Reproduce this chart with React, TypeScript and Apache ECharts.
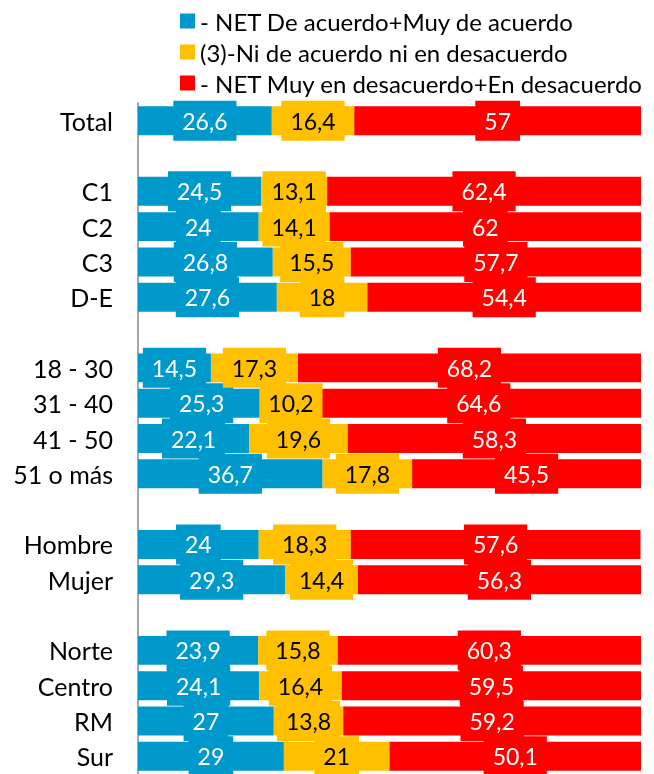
import React, { useEffect, useRef } from "react";
import * as echarts from "echarts";

const categories = ["Total", " ", "C1", "C2", "C3", "D-E", "  ", "18 - 30", "31 - 40", "41 - 50", "51 o más", "   ", "Hombre", "Mujer", "    ", "Norte", "Centro", "RM", "Sur"];
const seriesNames = ["- NET De acuerdo+Muy de acuerdo", "(3)-Ni de acuerdo ni en desacuerdo", "- NET Muy en desacuerdo+En desacuerdo"];
const agree = [26.6, null, 24.5, 24, 26.8, 27.6, null, 14.5, 25.3, 22.1, 36.7, null, 24, 29.3, null, 23.9, 24.1, 27, 29];
const neutral = [16.4, null, 13.1, 14.1, 15.5, 18, null, 17.3, 10.2, 19.6, 17.8, null, 18.3, 14.4, null, 15.8, 16.4, 13.8, 21];
const disagree = [57, null, 62.4, 62, 57.7, 54.4, null, 68.2, 64.6, 58.3, 45.5, null, 57.6, 56.3, null, 60.3, 59.5, 59.2, 50.1];
const colors = ["#0099CC", "#FFC000", "#FF0000"];
const labelColors = ["#FFFFFF", "#000000", "#FFFFFF"];

const FONT = "Lato";

export default function App() {
  const ref = useRef<HTMLDivElement>(null);
  useEffect(() => {
    if (!ref.current) return;
    const chart = echarts.init(ref.current, null, { renderer: "svg" });
    const data = [agree, neutral, disagree];
    chart.setOption({
      animation: false,
      textStyle: { fontFamily: FONT },
      legend: {
        orient: "vertical",
        left: 180,
        top: 9,
        padding: 0,
        itemWidth: 15,
        itemHeight: 15,
        itemGap: 7,
        icon: "rect",
        textStyle: { fontFamily: FONT, fontSize: 24, lineHeight: 23, color: "#000" },
        data: seriesNames,
      },
      grid: { left: 138, right: 13, top: 103, height: 672, containLabel: false },
      xAxis: { type: "value", min: 0, max: 100, show: false },
      yAxis: {
        type: "category",
        inverse: true,
        data: categories,
        axisLine: { show: true, lineStyle: { color: "#A6A6A6", width: 2 } },
        axisTick: { show: false },
        axisLabel: { fontFamily: FONT, fontSize: 25, color: "#000", margin: 25 },
      },
      series: seriesNames.map((name, i) => ({
        name,
        type: "bar",
        stack: "all",
        barWidth: "82%",
        data: data[i],
        itemStyle: { color: colors[i] },
        label: {
          show: true,
          position: "inside",
          fontFamily: FONT,
          fontSize: 23,
          lineHeight: 22,
          color: labelColors[i],
          backgroundColor: colors[i],
          padding: [9, 9],
          formatter: (p: any) => String(p.value).replace(".", ","),
        },
      })),
    });
    return () => chart.dispose();
  }, []);
  return <div ref={ref} style={{ position: "fixed", left: 0, top: 0, width: 654, height: 774 }} />;
}
